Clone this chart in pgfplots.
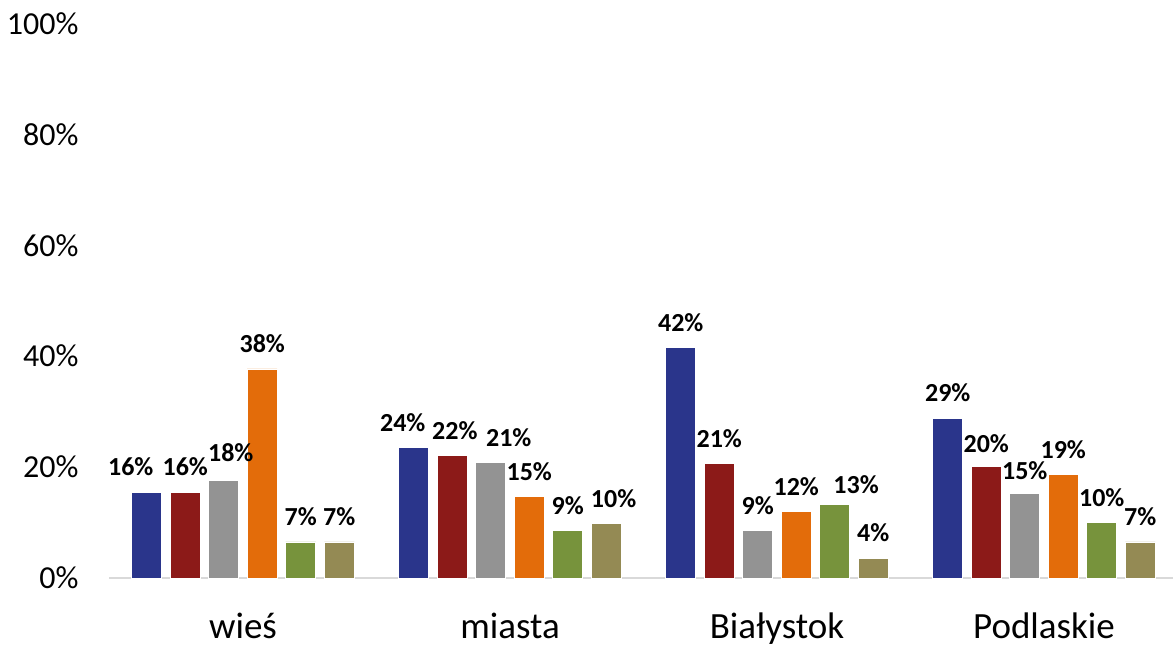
\documentclass[border=0pt]{standalone}
\usepackage{fontspec}
\setmainfont{Carlito}
\usepackage{pgfplots}
\pgfplotsset{compat=1.18}
\usepackage{pgfplotstable}

\definecolor{cBlue}{HTML}{2A358B}
\definecolor{cRed}{HTML}{8C1A18}
\definecolor{cGray}{HTML}{939393}
\definecolor{cOrange}{HTML}{E36C0A}
\definecolor{cGreen}{HTML}{77933C}
\definecolor{cOlive}{HTML}{948A54}

% x = category, y = value (%), lab = label/dx/dy (label text, offsets in pt)
\pgfplotstableread{
x y lab
0 15.5 16/-8/0
1 23.5 24/-5.5/0
2 41.6 42/0/0
3 28.7 29/0/0.5
}\sA
\pgfplotstableread{
x y lab
0 15.5 16/0/0
1 22.1 22/1.3/0
2 20.6 21/0/0
3 20.1 20/0/-1
}\sB
\pgfplotstableread{
x y lab
0 17.6 18/3.5/1.5
1 20.9 21/9/0
2 8.5 9/0/0
3 15.3 15/0/-1
}\sC
\pgfplotstableread{
x y lab
0 37.7 38/0/0
1 14.7 15/0/0
2 12.0 12/0/0
3 18.6 19/0/0
}\sD
\pgfplotstableread{
x y lab
0 6.5 7/0/0
1 8.5 9/0/0
2 13.2 13/10.7/-2.5
3 10.0 10/0/0
}\sE
\pgfplotstableread{
x y lab
0 6.5 7/0/0
1 9.8 10/3.7/0
2 3.6 4/0/0
3 6.5 7/0/0
}\sF

\def\parselab#1/#2/#3\relax{\raisebox{#3pt}[0.7em][0pt]{\makebox[0pt][c]{\hspace*{#2pt}\hspace*{#2pt}#1\%}}}

\pgfplotsset{barlab/.style={fill=#1, draw=white, line width=0.4pt}}

\begin{document}
\begin{tikzpicture}
\begin{axis}[name=ax, scale only axis, width=534pt, height=277.25pt,
  xmin=-0.5, xmax=3.5, ymin=0, ymax=100,
  enlargelimits=false, clip=false,
  ybar=4.25pt, bar width=15pt,
  axis x line*=bottom, axis y line*=left,
  y axis line style={draw=none},
  x axis line style={draw=black!15, line width=0.75pt, -},
  major tick length=0pt, tick style={draw=none},
  xtick={0,1,2,3}, xticklabels={wieś,miasta,Białystok,Podlaskie},
  ytick={0,20,40,60,80,100}, yticklabels={0\%,20\%,40\%,60\%,80\%,100\%},
  yticklabel style={font=\fontsize{16}{19}\selectfont, text=black, xshift=-12pt},
  xticklabel style={font=\fontsize{18.5}{22}\selectfont, text=black, yshift=-14pt},
  point meta=explicit symbolic,
  nodes near coords={\expandafter\parselab\pgfplotspointmeta\relax},
  every node near coord/.append style={font=\bfseries\fontsize{13}{15}\selectfont, text=black, yshift=4.5pt},
]
\addplot[barlab=cBlue] table[x=x,y=y,meta=lab]{\sA};
\addplot[barlab=cRed] table[x=x,y=y,meta=lab]{\sB};
\addplot[barlab=cGray] table[x=x,y=y,meta=lab]{\sC};
\addplot[barlab=cOrange] table[x=x,y=y,meta=lab]{\sD};
\addplot[barlab=cGreen] table[x=x,y=y,meta=lab]{\sE};
\addplot[barlab=cOlive] table[x=x,y=y,meta=lab]{\sF};
\end{axis}
\pgfresetboundingbox
\path ([xshift=-54.75pt,yshift=-34pt]ax.south west) rectangle ([xshift=-2.25pt,yshift=11.75pt]ax.north east);
\end{tikzpicture}
\end{document}
